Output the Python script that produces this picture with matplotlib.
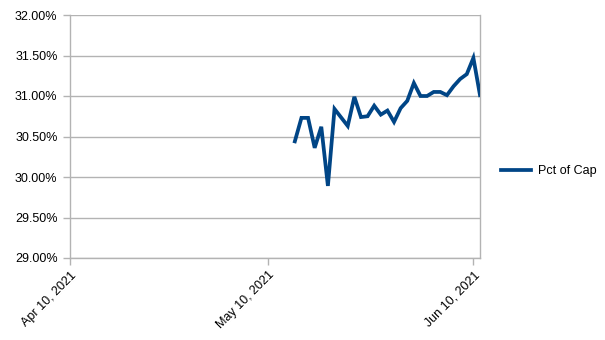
import matplotlib
matplotlib.use("Agg")
import matplotlib.pyplot as plt
from matplotlib.ticker import FuncFormatter
import numpy as np
import datetime as dt

dates = ["2021-05-14", "2021-05-15", "2021-05-16", "2021-05-17", "2021-05-18",
         "2021-05-19", "2021-05-20", "2021-05-22", "2021-05-23", "2021-05-24",
         "2021-05-25", "2021-05-26", "2021-05-27", "2021-05-28", "2021-05-29",
         "2021-05-30", "2021-05-31", "2021-06-01", "2021-06-02", "2021-06-03",
         "2021-06-04", "2021-06-05", "2021-06-06", "2021-06-07", "2021-06-08",
         "2021-06-09", "2021-06-10", "2021-06-11"]
pct_of_cap = [30.44, 30.73, 30.73, 30.36, 30.62,
              29.89, 30.84, 30.63, 30.99, 30.74,
              30.75, 30.88, 30.77, 30.82, 30.68,
              30.85, 30.94, 31.16, 31.00, 31.00,
              31.05, 31.05, 31.01, 31.12, 31.21,
              31.27, 31.47, 31.01]
tick_dates = ["2021-04-10", "2021-05-10", "2021-06-10"]
tick_labels = ["Apr 10, 2021", "May 10, 2021", "Jun 10, 2021"]
series_name = "Pct of Cap"

plt.rcParams['font.family'] = ['Liberation Sans', 'DejaVu Sans']

x = [dt.datetime.strptime(d, "%Y-%m-%d") for d in dates]
xt = [dt.datetime.strptime(d, "%Y-%m-%d") for d in tick_dates]

fig = plt.figure(figsize=(6.05, 3.40), dpi=100)
ax = fig.add_axes([70/605, 1 - 258/340, 410/605, 243/340])

grid_c = "#b3b3b3"
ax.plot(x, pct_of_cap, color="#004586", lw=2.7, solid_joinstyle="miter", label=series_name, zorder=3)

ax.set_ylim(29, 32)
ax.set_yticks(np.arange(29, 32.01, 0.5))
ax.yaxis.set_major_formatter(FuncFormatter(lambda v, p: f"{v:.2f}%"))
ax.set_xlim(dt.datetime(2021, 4, 10), dt.datetime(2021, 6, 11))
ax.set_xticks(xt)
ax.set_xticklabels(tick_labels, rotation=45, ha="right", va="top", rotation_mode="anchor")

ax.grid(axis="y", color=grid_c, lw=1)
ax.set_axisbelow(True)
for s in ax.spines.values():
    s.set_color(grid_c)
    s.set_linewidth(1)
ax.spines["top"].set_visible(False)
ax.tick_params(axis="both", colors=grid_c, labelcolor="black", labelsize=9, length=5, width=1)
ax.tick_params(axis="x", pad=3)
ax.tick_params(axis="y", pad=4)

leg = fig.legend(loc="center left", bbox_to_anchor=(490/605, 1 - 171/340), frameon=False,
                 fontsize=9, handlelength=2.4, handletextpad=0.5)

fig.savefig("out.png", dpi=100)
